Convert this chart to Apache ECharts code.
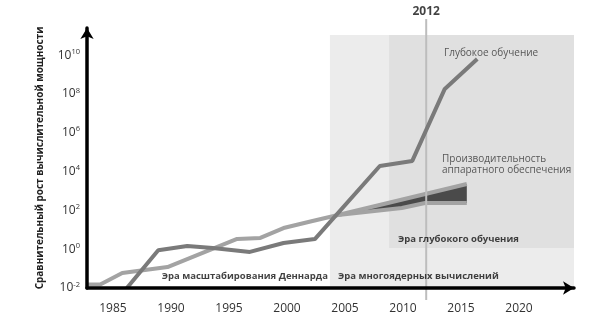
<!DOCTYPE html>
<html><head><meta charset="utf-8">
<script src="https://cdn.jsdelivr.net/npm/echarts@6/dist/echarts.min.js"></script>
<style>html,body{margin:0;padding:0;background:#fff}#c{width:599px;height:331px}</style>
</head><body><div id="c"></div>
<script>
const deepYears = [1986.2, 1988.9, 1991.4, 1993.6, 1996.8, 1999.7, 2002.4, 2008.0, 2010.8, 2013.6, 2016.4];
const deepLog10 = [-2.0, -0.05, 0.16, 0.06, -0.14, 0.32, 0.52, 4.29, 4.55, 8.26, 9.8];

const hwYears = [1982.8, 1983.9, 1985.8, 1989.7, 1995.7, 1997.7, 1999.7, 2002.2, 2004.4, 2009.9, 2011.9, 2015.5];
const hwLog10 = [-1.82, -1.82, -1.23, -0.92, 0.53, 0.58, 1.09, 1.45, 1.76, 2.12, 2.38, 2.38];

const hwUpperYears = [2004.4, 2015.5];
const hwUpperLog10 = [1.76, 3.36];
const hwLowerYears = [2004.4, 2009.9, 2011.9, 2015.5];
const hwLowerLog10 = [1.76, 2.12, 2.38, 2.38];

const xTickLabels = [1985, 1990, 1995, 2000, 2005, 2010, 2015, 2020];
const yTickExponents = [-2, 0, 2, 4, 6, 8, 10];

const multicoreEra = [2003.7, 2030];
const deepLearningEra = [2008.8, 2030];
const deepLearningEraFloor = 0.06;
const eraTop = 11.04;
const markYear = 2012;

const chart = echarts.init(document.getElementById('c'), null, {renderer: 'canvas'});
const font = "'Open Sans', 'Noto Sans', sans-serif";
const XMIN = 1982.76, XMAX = 2024.74, YMIN = -2, YMAX = 11.4;
const markBottom = -2.62, markTop = 11.87;

const textItems = [
  {value: [2013.53, 10.11], text: 'Глубокое обучение', bold: false, pos: 'right'},
  {value: [2013.36, 4.34], text: 'Производительность\nаппаратного обеспечения', bold: false, pos: 'right'},
  {value: [2009.57, 0.53], text: 'Эра глубокого обучения', bold: true, pos: 'right'},
  {value: [2004.4, -1.38], text: 'Эра многоядерных вычислений', bold: true, pos: 'right'},
  {value: [1989.2, -1.38], text: 'Эра масштабирования Деннарда', bold: true, pos: 'right'},
  {value: [markYear, markTop], text: String(markYear), bold: true, pos: 'top', size: 12}
];

chart.setOption({
  animation: false,
  backgroundColor: '#fff',
  textStyle: {fontFamily: font},
  grid: {left: 87, right: 25, top: 28, bottom: 43, containLabel: false},
  xAxis: {
    type: 'value', min: XMIN, max: XMAX, z: 10,
    axisLine: {show: true, onZero: false, lineStyle: {color: '#000', width: 3.5}, symbol: ['none', 'arrow'], symbolSize: [10, 11]},
    axisTick: {show: false},
    splitLine: {show: false},
    axisLabel: {customValues: xTickLabels, margin: 15, fontSize: 12, color: '#333', fontFamily: font,
      formatter: v => String(v)}
  },
  yAxis: {
    type: 'value', min: YMIN, max: YMAX, z: 10,
    name: 'Сравнительный рост вычислительной мощности',
    nameLocation: 'middle', nameRotate: 90, nameGap: 42,
    nameTextStyle: {fontSize: 10, fontWeight: 'bold', color: '#222', fontFamily: font},
    axisLine: {show: true, onZero: false, lineStyle: {color: '#000', width: 3.5}, symbol: ['none', 'arrow'], symbolSize: [10, 11]},
    axisTick: {show: false},
    splitLine: {show: false},
    axisLabel: {customValues: yTickExponents, margin: 7, color: '#333', fontFamily: font,
      formatter: v => '{b|10}{s|' + v + '}',
      rich: {b: {fontSize: 12, color: '#333', fontFamily: font}, s: {fontSize: 7.5, color: '#333', fontFamily: font, padding: [0, 0, 7, 0]}}}
  },
  series: [
    {
      type: 'line', data: [], silent: true, z: 0,
      markArea: {silent: true, data: [
        [{xAxis: multicoreEra[0], yAxis: YMIN, itemStyle: {color: '#ececec'}}, {xAxis: multicoreEra[1], yAxis: eraTop}],
        [{xAxis: deepLearningEra[0], yAxis: deepLearningEraFloor, itemStyle: {color: '#e0e0e0'}}, {xAxis: deepLearningEra[1], yAxis: eraTop}]
      ]}
    },
    {
      type: 'custom', z: 3, silent: true, clip: false,
      data: [[hwUpperYears[0], hwUpperLog10[0]]],
      renderItem: (params, api) => {
        const pts = hwUpperYears.map((x, i) => api.coord([x, hwUpperLog10[i]]))
          .concat(hwLowerYears.map((x, i) => api.coord([x, hwLowerLog10[i]])).reverse());
        return {type: 'polygon', shape: {points: pts}, style: {fill: '#4a4a4a'}};
      }
    },
    {
      type: 'line', z: 4, symbol: 'none', silent: true, clip: false,
      data: hwYears.map((x, i) => [x, hwLog10[i]]),
      lineStyle: {color: '#a3a3a3', width: 4}
    },
    {
      type: 'line', z: 4, symbol: 'none', silent: true, clip: false,
      data: hwUpperYears.map((x, i) => [x, hwUpperLog10[i]]),
      lineStyle: {color: '#a3a3a3', width: 4}
    },
    {
      type: 'line', z: 5, symbol: 'none', silent: true, clip: false,
      data: [[markYear, markBottom], [markYear, markTop]],
      lineStyle: {color: '#bdbdbd', width: 2}
    },
    {
      type: 'line', z: 6, symbol: 'none', silent: true, clip: true,
      data: deepYears.map((x, i) => [x, deepLog10[i]]),
      lineStyle: {color: '#7a7a7a', width: 4}
    },
    {
      type: 'scatter', z: 7, symbolSize: 0, silent: true, clip: false,
      data: textItems.map(t => ({value: t.value, label: {
        show: true, position: t.pos, distance: t.pos === 'top' ? 2 : 0, formatter: t.text,
        fontSize: t.size || (t.bold ? 9.5 : 10), fontWeight: t.bold ? 'bold' : 'normal',
        color: t.bold ? '#111' : '#333', lineHeight: 11, fontFamily: font
      }}))
    }
  ]
});
</script></body></html>
